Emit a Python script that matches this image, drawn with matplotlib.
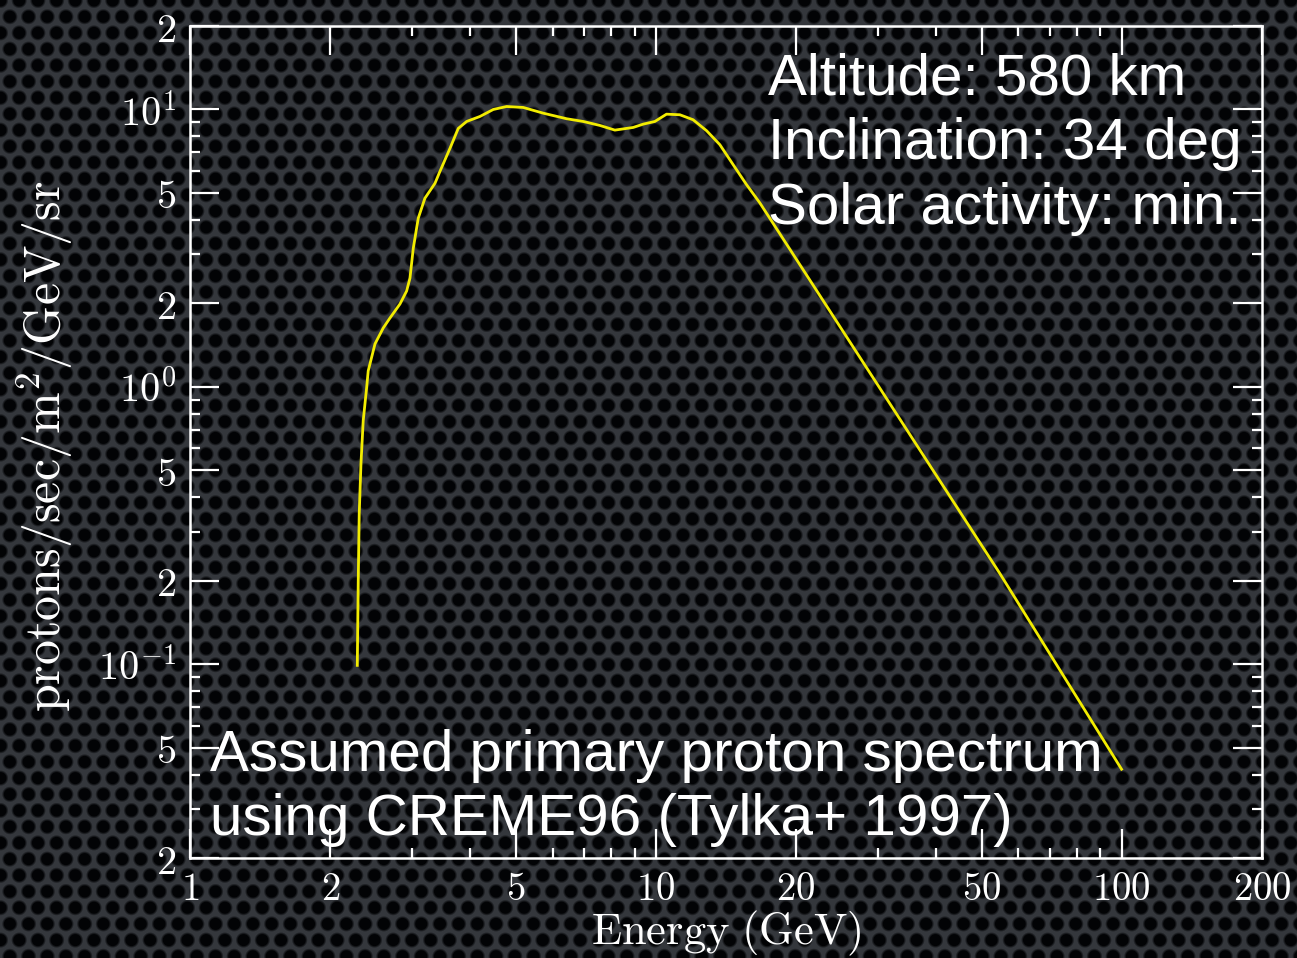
import numpy as np
import matplotlib
matplotlib.use("Agg")
import matplotlib.pyplot as plt

plt.rcParams['mathtext.fontset'] = 'cm'

# Primary proton spectrum (CREME96)
energy_gev = [2.286, 2.297, 2.308, 2.328, 2.354, 2.394, 2.413, 2.495, 2.599, 2.687,
              2.823, 2.917, 2.966, 3.015, 3.090, 3.193, 3.356, 3.440, 3.614, 3.765,
              3.925, 4.192, 4.476, 4.782, 5.191, 5.731, 6.435, 6.982, 7.583, 8.166,
              8.940, 9.392, 9.952, 10.54, 11.26, 12.02, 12.85, 13.72, 14.65, 15.65,
              16.72, 54.72, 99.9]
flux = [0.099, 0.2005, 0.349, 0.528, 0.755, 0.992, 1.142, 1.428, 1.630, 1.771,
        1.989, 2.215, 2.466, 3.162, 4.055, 4.785, 5.418, 5.984, 7.240, 8.543,
        9.054, 9.437, 10.0, 10.25, 10.17, 9.698, 9.259, 9.054, 8.759, 8.426,
        8.615, 8.854, 9.054, 9.619, 9.571, 9.183, 8.383, 7.465, 6.325, 5.360,
        4.602, 0.2125, 0.0418]

x_ticks = [1, 2, 5, 10, 20, 50, 100, 200]
x_ticklabels = ['1', '2', '5', '10', '20', '50', '100', '200']
y_ticks = [0.02, 0.05, 0.1, 0.2, 0.5, 1, 2, 5, 10, 20]
y_ticklabels = ['2', '5', '10^{-1}', '2', '5', '10^{0}', '2', '5', '10^{1}', '2']

info_text = "Altitude: 580 km\nInclination: 34 deg\nSolar activity: min."
source_text = "Assumed primary proton spectrum\nusing CREME96 (Tylka+ 1997)"

W, H = 1297, 958
fig = plt.figure(figsize=(W / 100, H / 100), dpi=100)

# perforated dark background
yy, xx = np.mgrid[0:H, 0:W].astype(float)
px, py = 18.7, 16.2
row = np.round(yy / py)
xoff = (row % 2) * px / 2
dx = ((xx - xoff + px / 2) % px) - px / 2
dy = yy - row * py
d = np.sqrt(dx ** 2 + dy ** 2)
shade = np.clip((d - 5.5) / 2.5, 0, 1)[..., None]
hole = np.array([2, 3, 5]) / 255
mesh = np.array([52, 55, 60]) / 255
bg = hole + shade * (mesh - hole)
fig.figimage(bg, xo=0, yo=0, origin='upper', zorder=-10)

ax = fig.add_axes([190 / W, 1 - 858 / H, 1072 / W, 832 / H])
ax.set_zorder(2)
ax.set_facecolor('none')
ax.set_xscale('log')
ax.set_yscale('log')
ax.set_xlim(1, 200)
ax.set_ylim(0.02, 20)

ax.plot(energy_gev, flux, color='#f2ec00', lw=2)

ax.set_xticks(x_ticks)
ax.set_xticklabels([r'$\mathrm{%s}$' % t for t in x_ticklabels], fontsize=28)
ax.set_xticks([3, 4, 6, 7, 8, 9, 30, 40, 60, 70, 80, 90], minor=True)
ax.set_yticks(y_ticks)
ax.set_yticklabels([r'$\mathrm{%s}$' % t for t in y_ticklabels], fontsize=29)
ax.set_yticks([0.03, 0.04, 0.06, 0.07, 0.08, 0.09, 0.3, 0.4, 0.6, 0.7, 0.8, 0.9,
               3, 4, 6, 7, 8, 9], minor=True)
ax.xaxis.set_minor_formatter(plt.NullFormatter())
ax.yaxis.set_minor_formatter(plt.NullFormatter())

for s in ax.spines.values():
    s.set_color('white')
    s.set_linewidth(1.8)
ax.tick_params(which='both', direction='in', top=True, right=True, colors='white', width=1.6)
ax.tick_params(which='major', length=21)
ax.tick_params(which='minor', length=7)
ax.tick_params(axis='x', which='major', pad=9)
ax.tick_params(axis='y', which='major', pad=10)

ax.set_xlabel(r'$\mathrm{Energy\ (GeV)}$', fontsize=32, color='white', labelpad=0)
fig.text(45 / W, 1 - 446 / H, r'$\mathrm{protons/sec/m^{2}/GeV/sr}$', fontsize=36,
         color='white', rotation=90, ha='center', va='center')

ax.text(0.539, 0.968, info_text, transform=ax.transAxes, fontsize=42,
        family='Liberation Sans', color='white', ha='left', va='top', linespacing=1.25)
ax.text(0.0187, 0.0276, source_text, transform=ax.transAxes, fontsize=42,
        family='Liberation Sans', color='white', ha='left', va='baseline', linespacing=1.25)

fig.savefig('out.png', dpi=100, facecolor='#25272b')
